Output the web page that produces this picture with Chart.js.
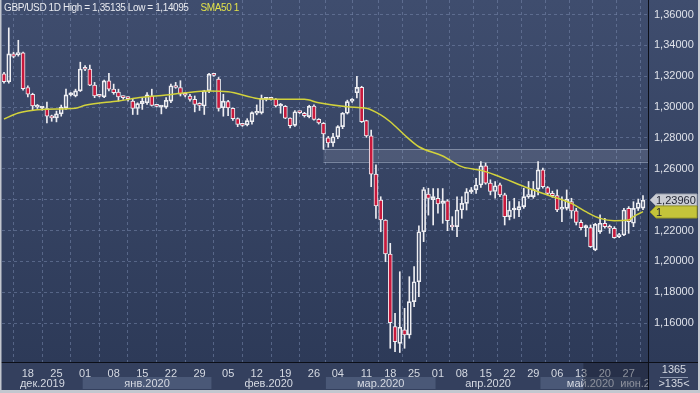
<!DOCTYPE html>
<html>
<head>
<meta charset="utf-8">
<script src="https://cdn.jsdelivr.net/npm/chart.js@4.4.1/dist/chart.umd.min.js"></script>
<style>
  html, body { margin: 0; padding: 0; background: #c3c7cf; }
  #wrap { position: relative; width: 700px; height: 393px; }
</style>
</head>
<body>
<div id="wrap"><canvas id="chart" width="700" height="393"></canvas></div>
<script>
// GBP/USD daily candles, one entry per bar (135 bars)
const opens = [
  1.3215, 1.3164, 1.3345, 1.3340, 1.3352, 1.3127, 1.3083, 1.3000, 1.2993, 1.2991,
  1.2941, 1.2930, 1.2956, 1.2996, 1.3079, 1.3072, 1.3105, 1.3247, 1.3247, 1.3142,
  1.3072, 1.3066, 1.3170, 1.3116, 1.3098, 1.3066, 1.3061, 1.3039, 1.2991, 1.3022,
  1.3028, 1.3072, 1.3007, 1.3000, 1.3000, 1.3039, 1.3138, 1.3127, 1.3079, 1.3072,
  1.3050, 1.3022, 1.3007, 1.3105, 1.3208, 1.3181, 1.2996, 1.3035, 1.2992, 1.2925,
  1.2886, 1.2885, 1.2905, 1.2960, 1.2962, 1.3050, 1.3052, 1.3050, 1.3007, 1.3005,
  1.2928, 1.2882, 1.2966, 1.2960, 1.2938, 1.3007, 1.2920, 1.2895, 1.2800, 1.2768,
  1.2808, 1.2873, 1.2960, 1.3039, 1.3093, 1.3128, 1.2912, 1.2813, 1.2566, 1.2398,
  1.2268, 1.2048, 1.1577, 1.1469, 1.1556, 1.1523, 1.1739, 1.1868, 1.2192, 1.2436,
  1.2400, 1.2408, 1.2376, 1.2393, 1.2228, 1.2225, 1.2333, 1.2376, 1.2451, 1.2463,
  1.2495, 1.2620, 1.2507, 1.2453, 1.2496, 1.2431, 1.2290, 1.2333, 1.2333, 1.2355,
  1.2420, 1.2420, 1.2468, 1.2593, 1.2478, 1.2441, 1.2426, 1.2339, 1.2344, 1.2387,
  1.2327, 1.2253, 1.2219, 1.2219, 1.2075, 1.2193, 1.2247, 1.2225, 1.2215, 1.2161,
  1.2171, 1.2344, 1.2247, 1.2344, 1.2345
];
const highs = [
  1.3225, 1.35135, 1.3356, 1.3433, 1.3356, 1.3138, 1.3090, 1.3017, 1.3002, 1.3033,
  1.2948, 1.2974, 1.3013, 1.3116, 1.3094, 1.3116, 1.3291, 1.3269, 1.3273, 1.3160,
  1.3079, 1.3175, 1.3219, 1.3149, 1.3116, 1.3072, 1.3066, 1.3050, 1.3028, 1.3061,
  1.3094, 1.3116, 1.3013, 1.3007, 1.3061, 1.3149, 1.3160, 1.3171, 1.3094, 1.3083,
  1.3072, 1.3028, 1.3109, 1.3219, 1.3212, 1.3192, 1.3083, 1.3044, 1.2996, 1.2930,
  1.2890, 1.2925, 1.2970, 1.3014, 1.3078, 1.3060, 1.3058, 1.3055, 1.3024, 1.3010,
  1.2930, 1.2978, 1.2972, 1.2966, 1.3012, 1.3014, 1.2925, 1.2900, 1.2810, 1.2830,
  1.2880, 1.2965, 1.3045, 1.3055, 1.3200, 1.3135, 1.2915, 1.2851, 1.2625, 1.2419,
  1.2270, 1.2117, 1.1663, 1.1933, 1.1696, 1.1901, 1.1966, 1.2230, 1.2479, 1.2474,
  1.2472, 1.2472, 1.2472, 1.2400, 1.2290, 1.2419, 1.2419, 1.2472, 1.2479, 1.2539,
  1.2647, 1.2637, 1.2529, 1.2518, 1.2507, 1.2442, 1.2388, 1.2409, 1.2388, 1.2474,
  1.2518, 1.2518, 1.2647, 1.2604, 1.2485, 1.2455, 1.2463, 1.2419, 1.2463, 1.2409,
  1.2344, 1.2268, 1.2236, 1.2236, 1.2247, 1.2301, 1.2279, 1.2236, 1.2225, 1.2182,
  1.2344, 1.2355, 1.2387, 1.2404, 1.2426
];
const lows = [
  1.3155, 1.3155, 1.3319, 1.3330, 1.3109, 1.3066, 1.2978, 1.2991, 1.2980, 1.2897,
  1.2908, 1.2904, 1.2941, 1.2985, 1.3072, 1.3066, 1.3101, 1.3236, 1.3138, 1.3061,
  1.3066, 1.3061, 1.3105, 1.3083, 1.3039, 1.3050, 1.3039, 1.2952, 1.2952, 1.2985,
  1.3017, 1.3007, 1.3000, 1.2956, 1.2991, 1.3028, 1.3122, 1.3072, 1.3066, 1.3039,
  1.2969, 1.2978, 1.2952, 1.3094, 1.3200, 1.2974, 1.2941, 1.2945, 1.2913, 1.2873,
  1.2875, 1.2878, 1.2890, 1.2950, 1.2955, 1.3040, 1.3045, 1.3000, 1.2960, 1.2925,
  1.2865, 1.2875, 1.2958, 1.2935, 1.2930, 1.2915, 1.2890, 1.2726, 1.2740, 1.2745,
  1.2795, 1.2860, 1.2955, 1.3030, 1.3060, 1.2900, 1.2804, 1.2484, 1.2279, 1.2192,
  1.1998, 1.1437, 1.1415, 1.14095, 1.1437, 1.1502, 1.1706, 1.1771, 1.2128, 1.2300,
  1.2236, 1.2312, 1.2247, 1.2199, 1.2203, 1.2160, 1.2279, 1.2333, 1.2440, 1.2440,
  1.2480, 1.2500, 1.2431, 1.2409, 1.2420, 1.2236, 1.2269, 1.2279, 1.2290, 1.2344,
  1.2409, 1.2409, 1.2431, 1.2474, 1.2430, 1.2415, 1.2322, 1.2257, 1.2333, 1.2279,
  1.2236, 1.2204, 1.2161, 1.2090, 1.2069, 1.2182, 1.2215, 1.2182, 1.2150, 1.2154,
  1.2167, 1.2182, 1.2225, 1.2330, 1.2335
];
const closes = [
  1.3165, 1.3345, 1.3328, 1.3354, 1.3120, 1.3083, 1.3007, 1.3011, 1.2995, 1.2941,
  1.2930, 1.2956, 1.3000, 1.3079, 1.3083, 1.3105, 1.3247, 1.3245, 1.3142, 1.3072,
  1.3070, 1.3170, 1.3116, 1.3094, 1.3066, 1.3061, 1.3055, 1.2991, 1.3022, 1.3039,
  1.3079, 1.3011, 1.3005, 1.3004, 1.3044, 1.3138, 1.3127, 1.3083, 1.3077, 1.3050,
  1.3017, 1.3011, 1.3105, 1.3214, 1.3206, 1.2991, 1.3039, 1.2995, 1.2925, 1.2888,
  1.2882, 1.2912, 1.2964, 1.2970, 1.3057, 1.3052, 1.3050, 1.3007, 1.3014, 1.2928,
  1.2880, 1.2970, 1.2964, 1.2945, 1.3005, 1.2920, 1.2897, 1.2826, 1.2768, 1.2808,
  1.2873, 1.2960, 1.3035, 1.3050, 1.3128, 1.2905, 1.2813, 1.2566, 1.2359, 1.2268,
  1.2048, 1.1603, 1.1480, 1.1573, 1.1523, 1.1739, 1.1868, 1.2192, 1.2466, 1.2408,
  1.2420, 1.2372, 1.2392, 1.2264, 1.2223, 1.2333, 1.2376, 1.2451, 1.2457, 1.2495,
  1.2620, 1.2507, 1.2453, 1.2490, 1.2431, 1.2290, 1.2333, 1.2335, 1.2355, 1.2420,
  1.2431, 1.2468, 1.2593, 1.2485, 1.2441, 1.2426, 1.2333, 1.2348, 1.2404, 1.2327,
  1.2253, 1.2219, 1.2225, 1.2096, 1.2240, 1.2247, 1.2225, 1.2215, 1.2154, 1.2171,
  1.2333, 1.2257, 1.2344, 1.2380, 1.2396
];

// SMA50 (bar index -> value)
const smaIdx = [0, 3, 5, 9, 15, 17, 24, 29, 34, 38, 43, 47, 52, 54, 63, 66, 72, 76,
                79, 81, 84, 87, 92, 96, 100, 103, 110, 114, 119, 122, 125, 128, 131, 132, 134];
const smaValues = [1.2923, 1.2962, 1.2975, 1.2986, 1.2992, 1.3012, 1.3040, 1.3063, 1.3078,
                   1.3093, 1.3104, 1.3100, 1.3063, 1.3052, 1.3050, 1.3028, 1.3002, 1.2992,
                   1.2949, 1.2905, 1.2819, 1.2743, 1.2683, 1.2614, 1.2590, 1.2560, 1.2474,
                   1.2430, 1.2376, 1.2322, 1.2279, 1.2264, 1.2268, 1.2290, 1.2322];

// axis labels
const weekTickIdx = [5, 11, 17, 23, 29, 35, 41, 47, 53, 59, 65, 70, 76, 81, 86, 91, 96, 101, 106, 111, 116, 121, 126, 131];
const weekTickLabels = ['18', '25', '01', '08', '15', '22', '29', '05', '12', '19', '26', '04',
                        '11', '18', '25', '01', '08', '15', '22', '29', '06', '13', '20', '27'];
const monthStartIdx = [0, 17, 44, 68, 91, 113, 134];
const monthLabels = ['дек.2019', 'янв.2020', 'фев.2020', 'мар.2020', 'апр.2020', 'май.2020', 'июн.2020'];
const priceTicks = [1.16, 1.18, 1.20, 1.22, 1.24, 1.26, 1.28, 1.30, 1.32, 1.34, 1.36];

// horizontal zone drawn on the chart
const zoneStartIdx = 67;
const zoneTop = 1.2726;
const zoneBottom = 1.2646;

const fmt = v => v.toFixed(5).replace('.', ',');
const FONT = '"Liberation Sans", Arial, sans-serif';
const RED = '#c8193c';
const CANDLE_LINE = '#eeeef2';
const GRID = 'rgba(118, 134, 172, 0.55)';

const idx = opens.map((_, i) => i);
const bodies = idx.map(i => ({ x: i, y: [opens[i], closes[i]] }));
const upperWicks = idx.map(i => ({ x: i, y: [Math.max(opens[i], closes[i]), highs[i]] }));
const lowerWicks = idx.map(i => ({ x: i, y: [lows[i], Math.min(opens[i], closes[i])] }));
const bodyFill = idx.map(i => closes[i] < opens[i] ? RED : 'rgba(0,0,0,0)');
const smaPoints = smaIdx.map((v, k) => ({ x: v, y: smaValues[k] }));

// no extra room for first/last tick labels
const noPad = s => { s.paddingTop = 0; s.paddingBottom = 0; s.paddingLeft = 0; s.paddingRight = 0; };

// background, month bands, tags and frame
const decorPlugin = {
    id: 'decor',
    beforeDraw(chart) {
        const { ctx, chartArea: a, width, height } = chart;
        const g = ctx.createLinearGradient(0, 0, 0, a.bottom);
        g.addColorStop(0, '#3f4d6e');
        g.addColorStop(1, '#2d3a58');
        ctx.save();
        ctx.fillStyle = g;
        ctx.fillRect(0, 0, width, a.bottom);
        ctx.fillStyle = '#34405e';
        ctx.fillRect(0, a.bottom, width, height - a.bottom);
        ctx.restore();
    },
    beforeDatasetsDraw(chart) {
        const { ctx, chartArea: a, scales: { x, y } } = chart;
        const x0 = x.getPixelForValue(zoneStartIdx);
        const y0 = y.getPixelForValue(zoneTop);
        const y1 = y.getPixelForValue(zoneBottom);
        ctx.save();
        ctx.fillStyle = 'rgba(190, 200, 220, 0.16)';
        ctx.fillRect(x0, y0, a.right - x0, y1 - y0);
        ctx.strokeStyle = 'rgba(200, 210, 228, 0.45)';
        ctx.lineWidth = 1;
        ctx.beginPath();
        ctx.moveTo(x0, Math.round(y0) + 0.5);
        ctx.lineTo(a.right, Math.round(y0) + 0.5);
        ctx.moveTo(x0, Math.round(y1) + 0.5);
        ctx.lineTo(a.right, Math.round(y1) + 0.5);
        ctx.stroke();
        ctx.restore();
    },
    afterDraw(chart) {
        const { ctx, chartArea: a, scales: { x, y }, width, height } = chart;
        ctx.save();

        // month row
        const rowTop = a.bottom + 15, rowH = 12;
        ctx.beginPath();
        ctx.rect(a.left, rowTop, a.right - a.left, rowH);
        ctx.clip();
        ctx.font = '11px ' + FONT;
        ctx.textAlign = 'center';
        ctx.textBaseline = 'middle';
        monthStartIdx.forEach((start, k) => {
            const end = k + 1 < monthStartIdx.length ? monthStartIdx[k + 1] : x.max + 0.5;
            const x0 = Math.max(x.getPixelForValue(start - 0.5), a.left);
            const x1 = Math.min(x.getPixelForValue(end - 0.5), a.right);
            if (k % 2 === 1) {
                ctx.fillStyle = '#4a5877';
                ctx.fillRect(x0, rowTop, x1 - x0, rowH);
            }
            ctx.fillStyle = '#d5d9e2';
            ctx.fillText(monthLabels[k], (x0 + x1) / 2, rowTop + rowH / 2 + 0.5);
        });
        ctx.restore();

        // shaded end of the time scale
        ctx.save();
        const sx = x.getPixelForValue(121.5);
        ctx.fillStyle = 'rgba(18, 24, 40, 0.38)';
        ctx.fillRect(sx, a.bottom + 1, a.right - sx, height - a.bottom - 4);

        // separators
        ctx.strokeStyle = '#0c0f18';
        ctx.lineWidth = 1;
        ctx.beginPath();
        ctx.moveTo(a.right + 0.5, 0);
        ctx.lineTo(a.right + 0.5, height - 3);
        ctx.moveTo(0, a.bottom + 0.5);
        ctx.lineTo(width, a.bottom + 0.5);
        ctx.stroke();

        // corner box
        ctx.fillStyle = '#d5d9e2';
        ctx.font = '11px ' + FONT;
        ctx.textAlign = 'center';
        ctx.textBaseline = 'middle';
        const cx = (a.right + width) / 2;
        ctx.fillText('1365', cx, a.bottom + 8);
        ctx.fillText('>' + opens.length + '<', cx, a.bottom + 22);
        ctx.strokeStyle = '#8a95ad';
        ctx.beginPath();
        ctx.moveTo(cx - 14, a.bottom + 15.5);
        ctx.lineTo(cx + 14, a.bottom + 15.5);
        ctx.stroke();

        // price tags
        const tag = (val, fill, stroke, text) => {
            const ty = Math.round(y.getPixelForValue(val));
            const x0 = a.right + 2, x1 = width - 3, h = 12;
            ctx.beginPath();
            ctx.moveTo(x0, ty);
            ctx.lineTo(x0 + 6, ty - h / 2);
            ctx.lineTo(x1, ty - h / 2);
            ctx.lineTo(x1, ty + h / 2);
            ctx.lineTo(x0 + 6, ty + h / 2);
            ctx.closePath();
            ctx.fillStyle = fill;
            ctx.fill();
            ctx.strokeStyle = stroke;
            ctx.stroke();
            ctx.fillStyle = '#1e2230';
            ctx.textAlign = 'left';
            ctx.fillText(text, x0 + 6, ty + 0.5);
        };
        tag(closes[closes.length - 1], '#c9ccd4', '#9aa0ad', fmt(closes[closes.length - 1]));
        tag(smaValues[smaValues.length - 1], '#c4c43a', '#9a9a28', '1');

        // legend
        ctx.font = '10px ' + FONT;
        ctx.letterSpacing = '-0.4px';
        ctx.textAlign = 'left';
        const title = 'GBP/USD 1D High = ' + fmt(Math.max(...highs)) + ' Low = ' + fmt(Math.min(...lows));
        ctx.fillStyle = '#e8eaf0';
        ctx.fillText(title, 4, 8);
        ctx.fillStyle = '#e2e24a';
        ctx.fillText('SMA50 1', 4 + ctx.measureText(title).width + 12, 8);
        ctx.letterSpacing = '0px';

        // window frame
        ctx.fillStyle = '#c3c7cf';
        ctx.fillRect(0, 0, 1.5, height);
        ctx.fillRect(width - 2, 0, 2, height);
        ctx.fillRect(0, height - 3, width, 3);
        ctx.restore();
    }
};

const chart = new Chart(document.getElementById('chart'), {
    type: 'bar',
    data: {
        datasets: [
            {
                type: 'line',
                data: smaPoints,
                borderColor: '#d2d23c',
                borderWidth: 1.5,
                pointRadius: 0,
                cubicInterpolationMode: 'monotone',
                order: 0
            },
            {
                data: bodies,
                backgroundColor: bodyFill,
                borderColor: CANDLE_LINE,
                borderWidth: 1,
                borderSkipped: false,
                barThickness: 4,
                minBarLength: 2,
                grouped: false,
                order: 1
            },
            {
                data: upperWicks,
                backgroundColor: CANDLE_LINE,
                barThickness: 1,
                grouped: false,
                order: 2
            },
            {
                data: lowerWicks,
                backgroundColor: CANDLE_LINE,
                barThickness: 1,
                grouped: false,
                order: 2
            }
        ]
    },
    options: {
        responsive: false,
        animation: false,
        devicePixelRatio: 1,
        layout: { padding: { left: 2, top: 0, right: 0, bottom: 0 } },
        plugins: {
            legend: { display: false },
            tooltip: { enabled: false }
        },
        scales: {
            x: {
                type: 'linear',
                min: -0.42,
                max: 135.05,
                offset: false,
                afterBuildTicks: s => { s.ticks = weekTickIdx.map(v => ({ value: v })); },
                afterFit: s => { s.height = 31; noPad(s); },
                ticks: {
                    autoSkip: false,
                    maxRotation: 0,
                    padding: 5,
                    color: '#d5d9e2',
                    font: { family: FONT, size: 11 },
                    callback: (v, i) => weekTickLabels[i]
                },
                grid: { color: GRID, drawTicks: false },
                border: { display: false, dash: [3, 3] }
            },
            y: {
                position: 'right',
                min: 1.1348,
                max: 1.3694,
                afterBuildTicks: s => { s.ticks = priceTicks.map(v => ({ value: v })); },
                afterFit: s => { s.width = 52; noPad(s); },
                ticks: {
                    padding: 6,
                    color: '#dfe2ea',
                    font: { family: FONT, size: 11 },
                    callback: v => fmt(v)
                },
                grid: { color: GRID, drawTicks: false },
                border: { display: false, dash: [3, 3] }
            }
        }
    },
    plugins: [decorPlugin]
});
</script>
</body>
</html>
